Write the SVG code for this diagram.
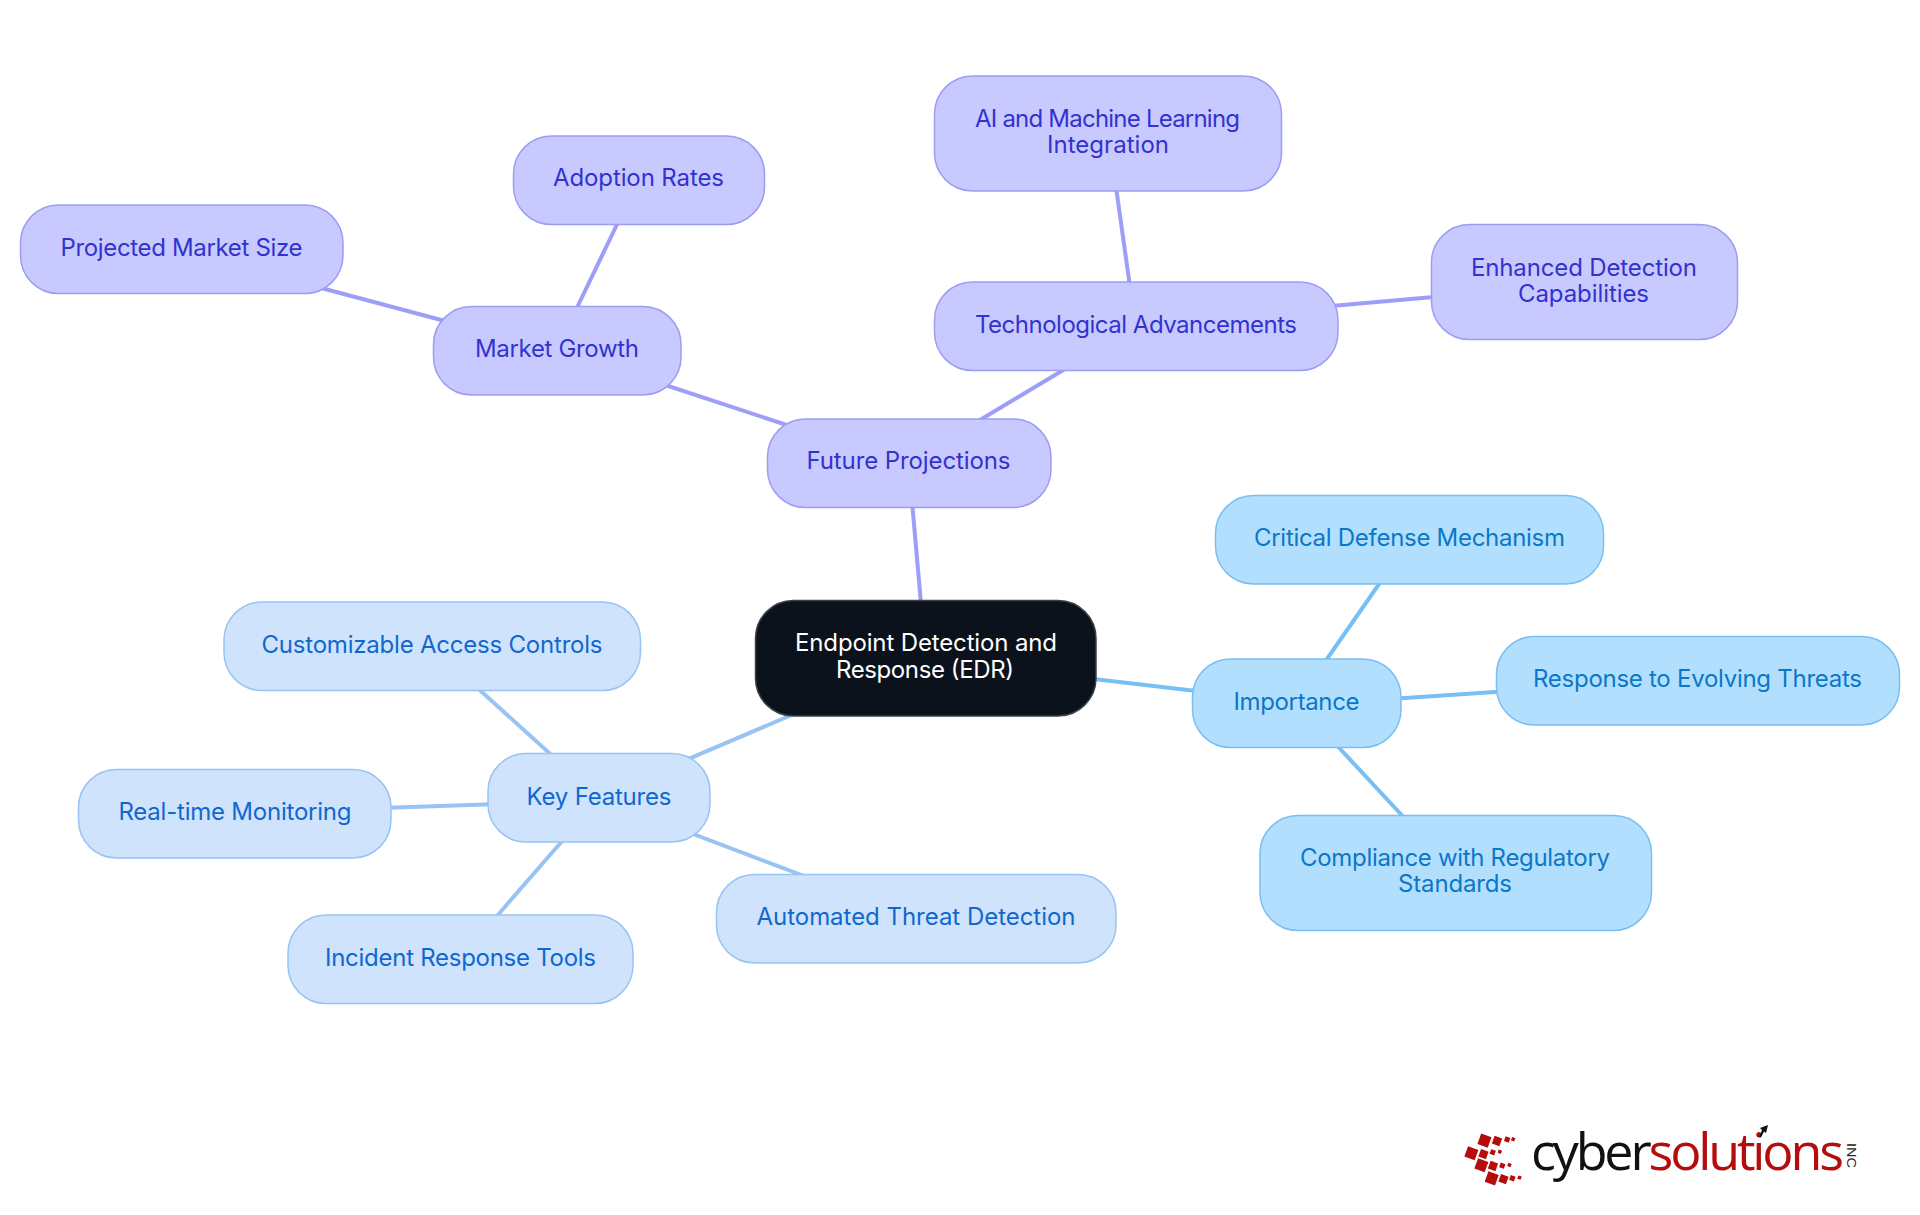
<svg xmlns="http://www.w3.org/2000/svg" width="1920" height="1215" viewBox="0 0 1920 1215">
<style>
text{font-family:"Inter","Noto Sans","Liberation Sans",sans-serif;font-size:24px;font-weight:400;text-anchor:middle}
.box{stroke-width:1.5}
.p rect{fill:#c8caff;stroke:#9b9df3}.p text{fill:#3232cf}
.b rect{fill:#cfe3fd;stroke:#98c3f3}.b text{fill:#1068cf}
.c rect{fill:#b3dffe;stroke:#7abff3}.c text{fill:#0a78c8}
.r rect{fill:#0b121b;stroke:#3b4046}.r text{fill:#fff}
#connectors line{stroke-width:4;fill:none}
.lp{stroke:#9d9ff7}.lb{stroke:#98c3f3}.lc{stroke:#78bff3}
.sq{fill:#b50d0d}
.logo{text-anchor:start;font-family:"Open Sans","Liberation Sans",sans-serif;font-weight:400;font-size:52px}
</style>
<rect width="1920" height="1215" fill="#fff"/>
<g id="connectors">
<line class="lp" x1="911" y1="490" x2="922" y2="615"/>
<line class="lp" x1="970" y1="426" x2="1075" y2="363"/>
<line class="lp" x1="650" y1="380" x2="805" y2="431"/>
<line class="lp" x1="572" y1="318" x2="623" y2="212"/>
<line class="lp" x1="460" y1="325" x2="310" y2="285"/>
<line class="lp" x1="1115" y1="180" x2="1131" y2="294"/>
<line class="lp" x1="1320" y1="307" x2="1445" y2="296"/>
<line class="lc" x1="1085" y1="678" x2="1205" y2="692"/>
<line class="lc" x1="1320" y1="669" x2="1386" y2="574"/>
<line class="lc" x1="1390" y1="699" x2="1510" y2="691"/>
<line class="lc" x1="1330" y1="738" x2="1410" y2="824"/>
<line class="lb" x1="808" y1="708" x2="672" y2="766"/>
<line class="lb" x1="558" y1="761" x2="472" y2="683"/>
<line class="lb" x1="500" y1="804" x2="380" y2="808"/>
<line class="lb" x1="570" y1="832" x2="490" y2="924"/>
<line class="lb" x1="680" y1="829" x2="812" y2="879"/>
</g>
<g id="root" class="r"><rect class="box" x="755.500" y="600.500" width="340.500" height="115.500" rx="38"/><text x="926" y="651" textLength="262">Endpoint Detection and</text><text x="925" y="678" textLength="178">Response (EDR)</text></g>
<g id="future" class="p"><rect class="box" x="767.500" y="419" width="283.500" height="88.500" rx="38"/><text x="908.500" y="469" textLength="204">Future Projections</text></g>
<g id="market" class="p"><rect class="box" x="433.500" y="306.500" width="247.500" height="88.500" rx="38"/><text x="557" y="357" textLength="164">Market Growth</text></g>
<g id="adoption" class="p"><rect class="box" x="513.500" y="136" width="251" height="88.500" rx="38"/><text x="638.500" y="186" textLength="171">Adoption Rates</text></g>
<g id="projected" class="p"><rect class="box" x="20.500" y="205" width="322.500" height="88.500" rx="38"/><text x="181.500" y="256" textLength="242">Projected Market Size</text></g>
<g id="tech" class="p"><rect class="box" x="934.500" y="282" width="403.500" height="88.500" rx="38"/><text x="1136" y="333" textLength="322">Technological Advancements</text></g>
<g id="ai" class="p"><rect class="box" x="934.500" y="76" width="347" height="115" rx="38"/><text x="1107.500" y="127" textLength="265">AI and Machine Learning</text><text x="1108" y="153" textLength="122">Integration</text></g>
<g id="enhanced" class="p"><rect class="box" x="1431.500" y="224.500" width="306" height="115" rx="38"/><text x="1584" y="276" textLength="226">Enhanced Detection</text><text x="1583.500" y="302" textLength="131">Capabilities</text></g>
<g id="importance" class="c"><rect class="box" x="1192.500" y="659" width="208.500" height="88.500" rx="38"/><text x="1296.500" y="710" textLength="126">Importance</text></g>
<g id="critical" class="c"><rect class="box" x="1215.500" y="495.500" width="388" height="88.500" rx="38"/><text x="1409.500" y="546" textLength="311">Critical Defense Mechanism</text></g>
<g id="evolving" class="c"><rect class="box" x="1496.500" y="636.500" width="403" height="88.500" rx="38"/><text x="1697.500" y="687" textLength="329">Response to Evolving Threats</text></g>
<g id="compliance" class="c"><rect class="box" x="1260" y="815.500" width="391.500" height="115" rx="38"/><text x="1455" y="866" textLength="310">Compliance with Regulatory</text><text x="1455" y="892" textLength="114">Standards</text></g>
<g id="keyfeatures" class="b"><rect class="box" x="488" y="753.500" width="222" height="88.500" rx="38"/><text x="599" y="805" textLength="145">Key Features</text></g>
<g id="access" class="b"><rect class="box" x="224" y="602" width="416.500" height="88.500" rx="38"/><text x="432" y="653" textLength="341">Customizable Access Controls</text></g>
<g id="monitoring" class="b"><rect class="box" x="78.500" y="769.500" width="312.500" height="88.500" rx="38"/><text x="235" y="820" textLength="233">Real-time Monitoring</text></g>
<g id="incident" class="b"><rect class="box" x="288" y="915" width="345" height="88.500" rx="38"/><text x="460.500" y="966" textLength="271">Incident Response Tools</text></g>
<g id="automated" class="b"><rect class="box" x="716.500" y="874.500" width="399.500" height="88.500" rx="38"/><text x="916" y="925" textLength="319">Automated Threat Detection</text></g>
<g id="logo">
<g class="sq">
<rect x="1478.800" y="1135" width="11" height="11" transform="rotate(20 1484 1141)"/><rect x="1493" y="1137" width="8" height="8" transform="rotate(20 1497 1141)"/><rect x="1504.500" y="1137" width="5" height="5" transform="rotate(20 1507 1140)"/><rect x="1511.500" y="1137.500" width="3.500" height="3.500" transform="rotate(20 1513 1139)"/>
<rect x="1466" y="1148" width="11" height="11" transform="rotate(20 1472 1153)"/><rect x="1479.500" y="1150" width="8" height="8" transform="rotate(20 1483 1154)"/><rect x="1490" y="1150" width="5" height="5" transform="rotate(20 1493 1153)"/><rect x="1498" y="1150" width="3.500" height="3.500" transform="rotate(20 1500 1152)"/>
<rect x="1476" y="1160" width="11" height="11" transform="rotate(20 1482 1165)"/><rect x="1489" y="1162" width="8" height="8" transform="rotate(20 1493 1166)"/><rect x="1500" y="1163" width="5" height="5" transform="rotate(20 1502 1165)"/><rect x="1508" y="1163" width="3.500" height="3.500" transform="rotate(20 1509 1164)"/>
<rect x="1486" y="1173" width="11" height="11" transform="rotate(20 1492 1179)"/><rect x="1499.500" y="1175" width="8" height="8" transform="rotate(20 1503 1179)"/><rect x="1510" y="1176" width="5" height="5" transform="rotate(20 1513 1178)"/><rect x="1518" y="1176" width="3.500" height="3.500" transform="rotate(20 1520 1177)"/>
</g>
<text class="logo" x="1531" y="1170" textLength="313" lengthAdjust="spacing"><tspan style="fill:#111">cyber</tspan><tspan style="fill:#b50d0d">solutions</tspan></text>
<text class="logo" transform="translate(1847 1143) rotate(90)" textLength="25" lengthAdjust="spacingAndGlyphs" style="font-family:'Liberation Sans',sans-serif;font-size:12px;fill:#222">INC</text>
<path d="M1759 1137l3-7 -2 -2 8-3-2 8-2-1.500-3 6z" fill="#111"/>
</g>
</svg>
